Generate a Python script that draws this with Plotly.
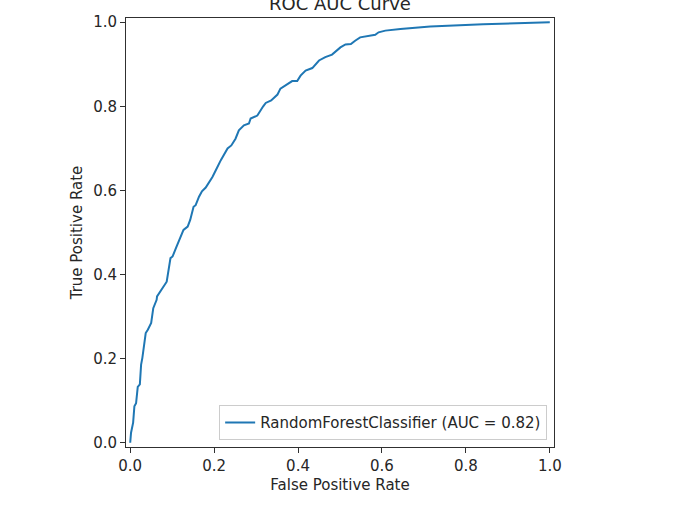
import plotly.graph_objects as go

fpr = [0.0, 0.002, 0.007, 0.010, 0.014, 0.018, 0.023, 0.026, 0.029, 0.037, 0.042, 0.050,
       0.055, 0.063, 0.064, 0.081, 0.087, 0.096, 0.101, 0.109, 0.119, 0.127, 0.137, 0.143,
       0.151, 0.156, 0.164, 0.171, 0.180, 0.191, 0.196, 0.204, 0.216, 0.232, 0.241, 0.251,
       0.259, 0.271, 0.283, 0.287, 0.303, 0.317, 0.323, 0.336, 0.351, 0.358, 0.370, 0.386,
       0.398, 0.406, 0.418, 0.434, 0.450, 0.465, 0.481, 0.501, 0.513, 0.526, 0.536, 0.548,
       0.584, 0.592, 0.608, 0.644, 0.715, 0.778, 0.841, 1.0]
tpr = [0.0, 0.024, 0.048, 0.087, 0.094, 0.133, 0.139, 0.186, 0.202, 0.261, 0.269, 0.285,
       0.320, 0.340, 0.348, 0.376, 0.383, 0.439, 0.443, 0.463, 0.489, 0.506, 0.514, 0.530,
       0.561, 0.565, 0.585, 0.598, 0.607, 0.624, 0.632, 0.648, 0.672, 0.700, 0.707, 0.723,
       0.743, 0.755, 0.759, 0.771, 0.778, 0.800, 0.808, 0.814, 0.828, 0.842, 0.849, 0.860,
       0.860, 0.873, 0.885, 0.891, 0.909, 0.917, 0.923, 0.940, 0.947, 0.948, 0.956, 0.964,
       0.970, 0.976, 0.980, 0.984, 0.990, 0.993, 0.995, 1.0]

tick_vals = [0.0, 0.2, 0.4, 0.6, 0.8, 1.0]
tick_text = ["0.0", "0.2", "0.4", "0.6", "0.8", "1.0"]

FONT = "DejaVu Sans"
TXT = "#262626"

fig = go.Figure()
fig.add_trace(go.Scatter(
    x=fpr, y=tpr, mode="lines",
    line=dict(color="#1f77b4", width=2),
    name="RandomForestClassifier (AUC = 0.82)",
))

axis_common = dict(
    range=[-0.01, 1.01],
    tickvals=tick_vals, ticktext=tick_text,
    showgrid=False, zeroline=False,
    showline=True, linecolor="#303030", linewidth=1, mirror=True,
    ticks="outside", ticklen=5, tickwidth=1, tickcolor="#303030",
    tickfont=dict(family=FONT, size=15, color=TXT),
)

fig.update_layout(
    width=680, height=510,
    margin=dict(l=126, r=126, t=18, b=63),
    paper_bgcolor="white", plot_bgcolor="white",
    font=dict(family=FONT, size=15, color=TXT),
    title=dict(text="ROC AUC Curve", x=0.5, xanchor="center",
               y=1 - 4 / 510, yanchor="middle", yref="container",
               font=dict(family=FONT, size=18, color=TXT)),
    xaxis=dict(**axis_common,
               title=dict(text="False Positive Rate", standoff=5,
                          font=dict(family=FONT, size=15, color=TXT))),
    yaxis=dict(**axis_common,
               title=dict(text="True Positive Rate", standoff=6,
                          font=dict(family=FONT, size=15, color=TXT))),
    showlegend=True,
    legend=dict(x=0.984, y=0.016, xanchor="right", yanchor="bottom",
                bgcolor="rgba(255,255,255,0.8)", bordercolor="#cccccc", borderwidth=1,
                font=dict(family=FONT, size=15, color=TXT)),
)

fig.write_html("out.html")
